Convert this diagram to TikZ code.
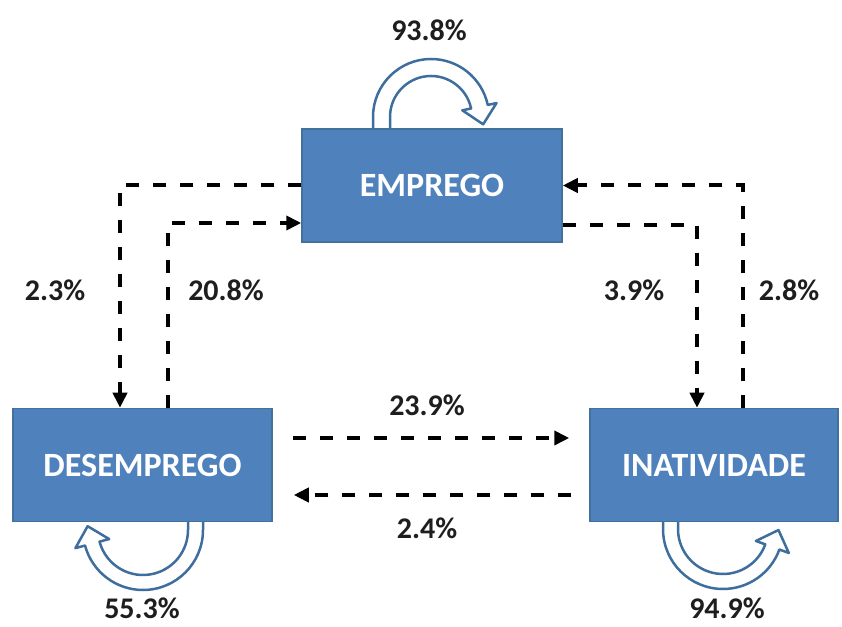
\documentclass[tikz,border=0pt]{standalone}
\usepackage{fontspec}
\setmainfont{Carlito}
\usetikzlibrary{arrows.meta,calc}
\definecolor{boxblue}{HTML}{4F81BD}
\definecolor{boxedge}{HTML}{41719C}
\definecolor{loopedge}{HTML}{3E6E9E}
\definecolor{txt}{HTML}{1E1E1E}
\begin{document}
\begin{tikzpicture}[x=1pt,y=1pt,
  state/.style={draw=boxedge, line width=1.5pt, fill=boxblue, text=white,
    font=\fontsize{34}{40}\selectfont\bfseries, minimum height=113pt, inner sep=0pt},
  conn/.style={line width=4pt, dash pattern=on 13pt off 14pt,
    -{Triangle[length=15pt,width=14pt]}},
  lbl/.style={text=txt, font=\fontsize{30}{36}\selectfont\bfseries, inner sep=0pt},
  loopshape/.style={draw=loopedge, line width=2.5pt, fill=white, line join=round}]
\useasboundingbox (0,0) rectangle (842,626);
% self loops
\coordinate (ct) at (431,509);
\coordinate (cl) at (143,96);
\coordinate (cr) at (723,97);
\path[loopshape] (373,493) -- (373,509) arc[start angle=180,end angle=12,radius=58pt]
  -- ($(ct)+(12:67pt)$) -- ($(ct)+(12:49.5pt)+(-78:18pt)$) -- ($(ct)+(12:32pt)$)
  -- ($(ct)+(12:41pt)$) arc[start angle=12,end angle=180,radius=41pt] -- (390,493) -- cycle;
\path[loopshape] (203,108) -- (203,96) arc[start angle=0,end angle=-165,radius=60pt]
  -- ($(cl)+(-165:70pt)$) -- ($(cl)+(-165:52.5pt)+(105:18pt)$) -- ($(cl)+(-165:35pt)$)
  -- ($(cl)+(-165:45pt)$) arc[start angle=-165,end angle=0,radius=45pt] -- (188,108) -- cycle;
\path[loopshape] (663,108) -- (663,97) arc[start angle=180,end angle=340,radius=60pt]
  -- ($(cr)+(340:70pt)$) -- ($(cr)+(340:52.5pt)+(70:18pt)$) -- ($(cr)+(340:35pt)$)
  -- ($(cr)+(340:45pt)$) arc[start angle=340,end angle=180,radius=45pt] -- (678,108) -- cycle;
% boxes
\node[state, minimum width=260pt] (emp) at (432,440.5) {EMPREGO};
\node[state, minimum width=259pt] (des) at (142.5,161) {DESEMPREGO};
\node[state, minimum width=248pt] (ina) at (714,161) {INATIVIDADE};
% connectors
\draw[conn] (emp.west) -| ([xshift=-22.5pt]des.north);
\draw[conn] ([xshift=25.5pt]des.north) |- ([yshift=-37.5pt]emp.west);
\draw[conn] ([yshift=-39.5pt]emp.east) -| ([xshift=-17pt]ina.north);
\draw[conn] ([xshift=29pt]ina.north) |- (emp.east);
\draw[conn] ([shift={(20pt,27pt)}]des.east) -- ([shift={(-20pt,27pt)}]ina.west);
\draw[conn] ([shift={(-18pt,-30pt)}]ina.west) -- ([shift={(21pt,-30pt)}]des.east);
% labels
\node[lbl] (l938) at (429,596) {93.8\%};
\node[lbl] (l553) at (142,18) {55.3\%};
\node[lbl] (l949) at (727,18) {94.9\%};
\node[lbl] (l23) at (55,336) {2.3\%};
\node[lbl] (l208) at (226,336) {20.8\%};
\node[lbl] (l39) at (634,336) {3.9\%};
\node[lbl] (l28) at (789,336) {2.8\%};
\node[lbl] (l239) at (427,221) {23.9\%};
\node[lbl] (l24) at (427,98) {2.4\%};
\end{tikzpicture}
\end{document}
